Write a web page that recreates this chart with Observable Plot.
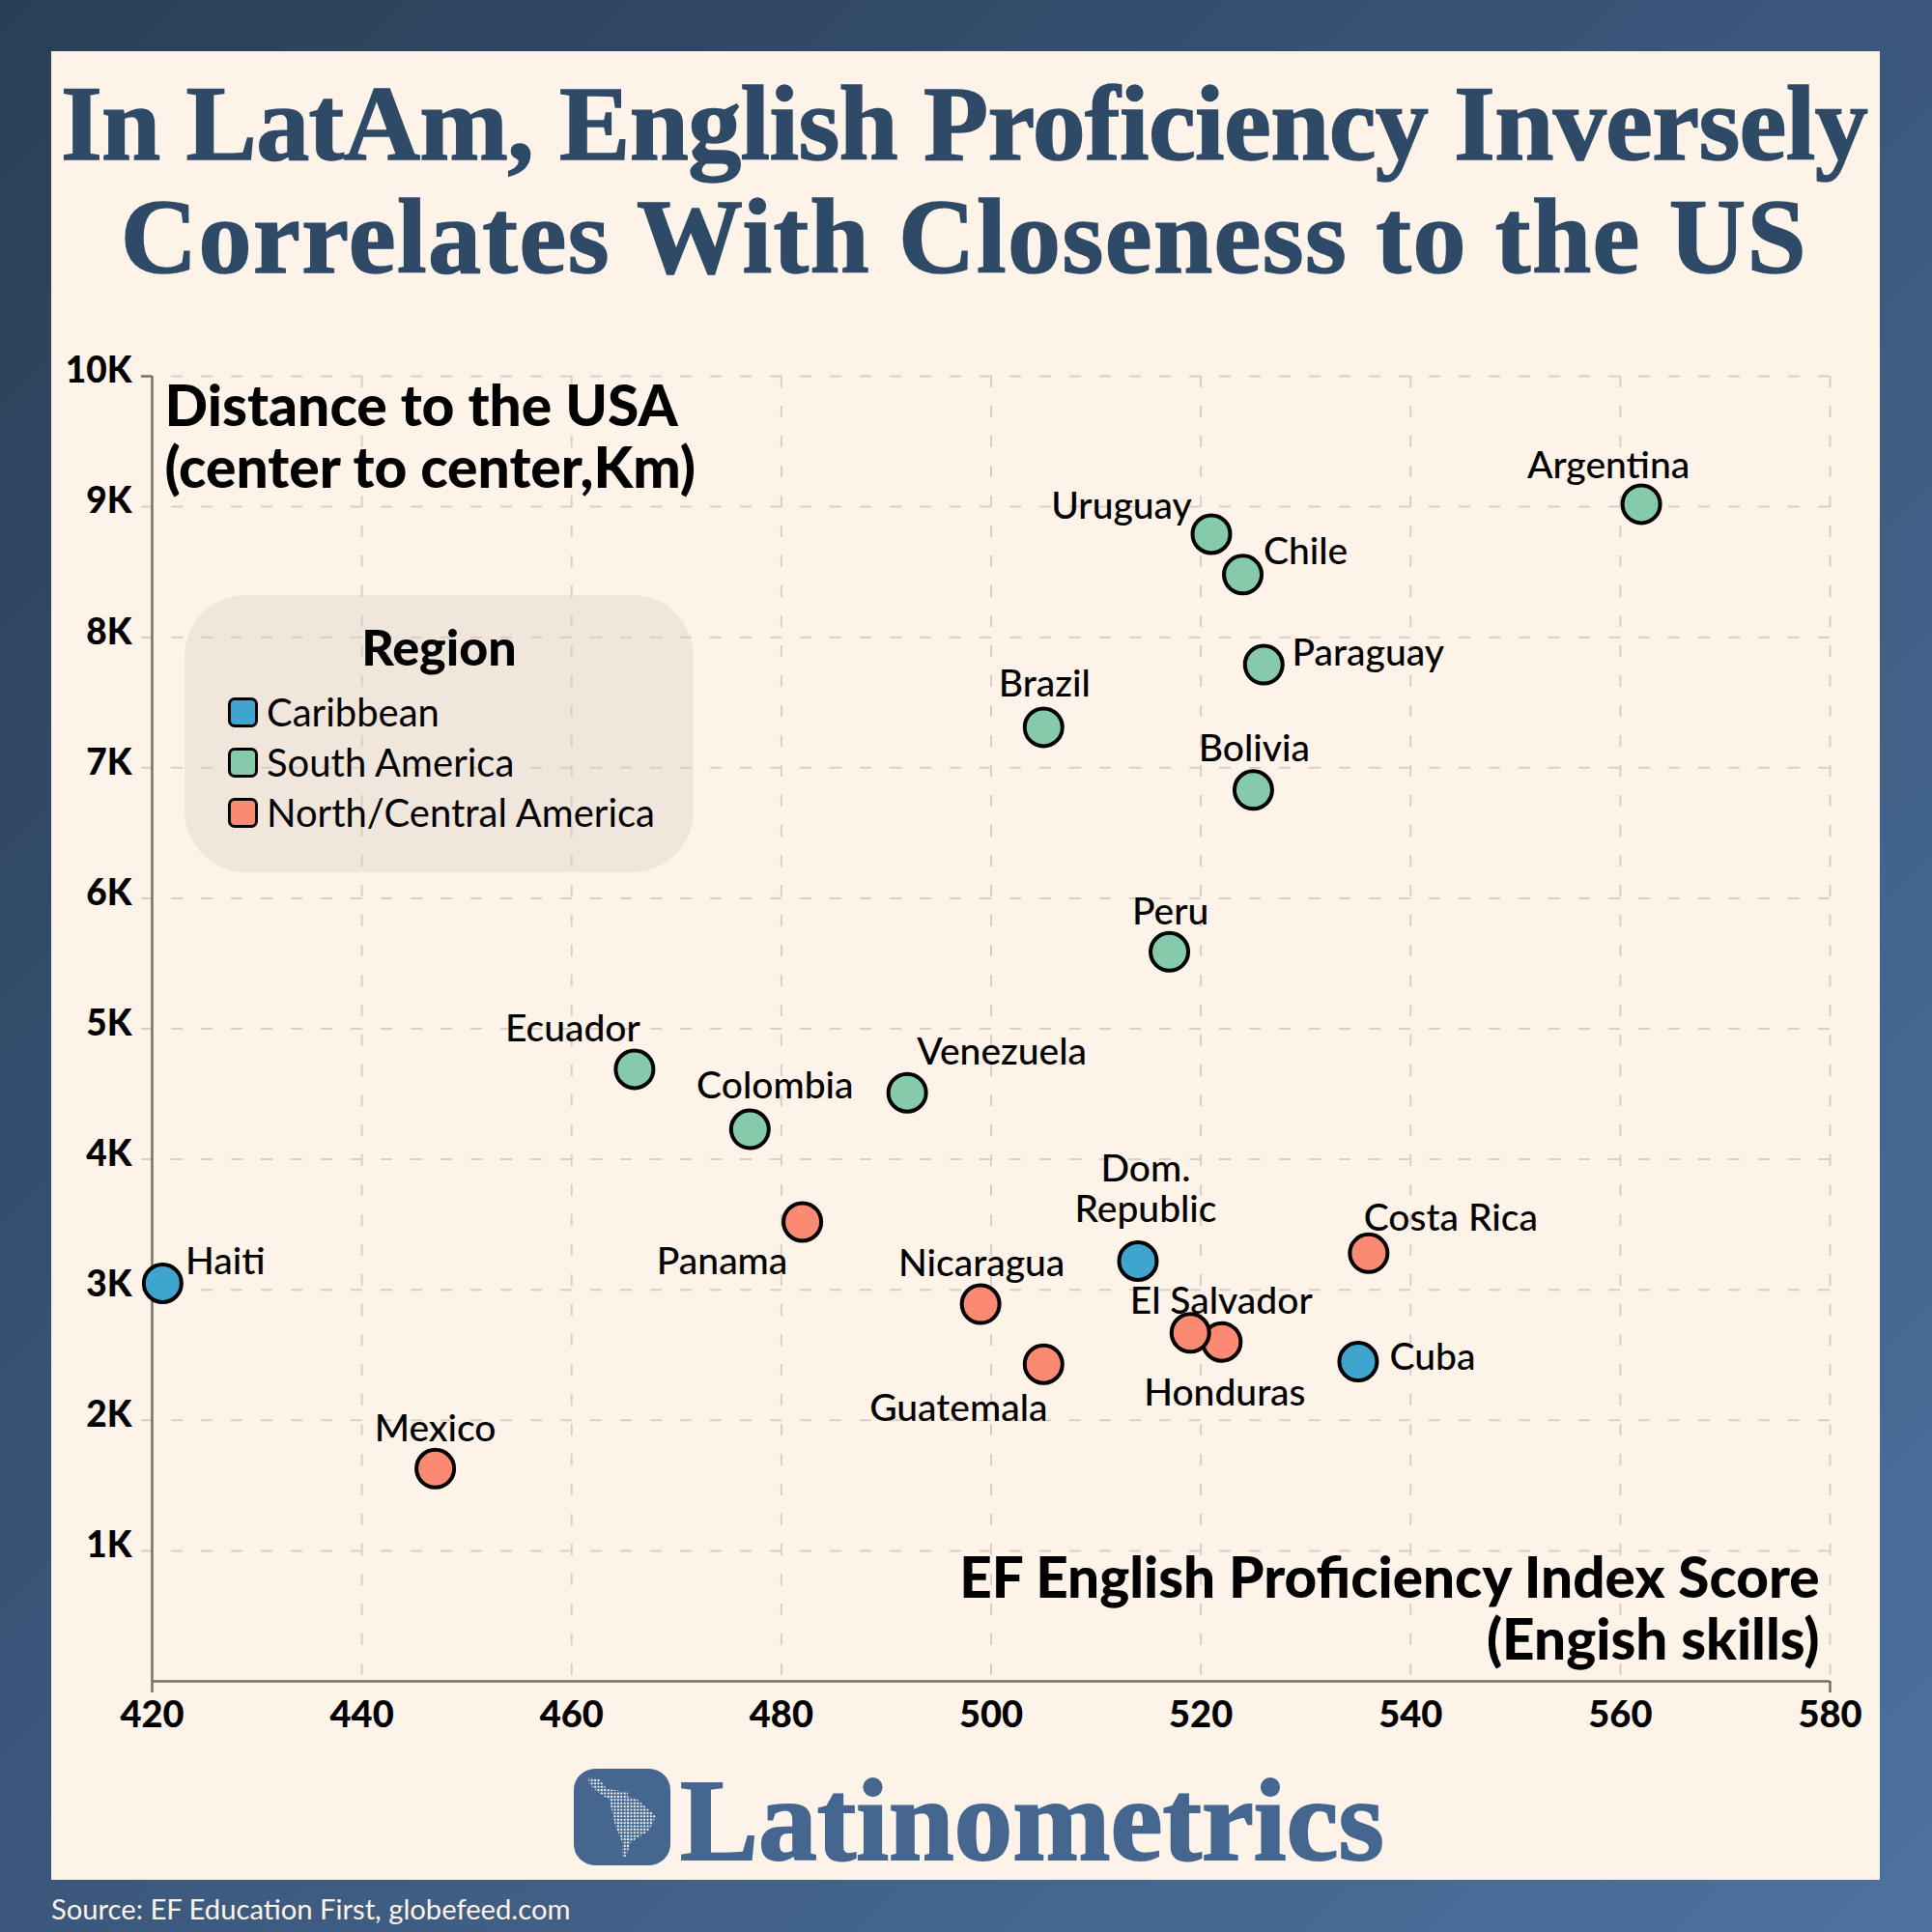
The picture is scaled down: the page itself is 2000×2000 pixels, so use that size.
<!DOCTYPE html>
<html>
<head>
<meta charset="utf-8">
<script src="https://cdn.jsdelivr.net/npm/d3@7"></script>
<script src="https://cdn.jsdelivr.net/npm/@observablehq/plot@0.6"></script>
<style>
html,body{margin:0;padding:0;background:#2a3f58}
#frame{position:relative;width:2000px;height:2000px;overflow:hidden;background:linear-gradient(135deg,#2a3e57 0%,#4c72a0 100%);font-family:Lato,sans-serif}
#panel{position:absolute;left:53px;top:53px;width:1893px;height:1893px;background:#fef3e8}
.title{position:absolute;left:0;width:1996px;text-align:center;font-family:"Liberation Serif",serif;font-weight:700;color:#2f4a66;font-size:110px;line-height:112px;white-space:nowrap;-webkit-text-stroke:1.5px #2f4a66}
#legendBox{position:absolute;left:191px;top:616px;width:527px;height:287px;border-radius:64px;background:#f0e6dc}
#legendTitle{position:absolute;left:191px;width:527px;top:639px;text-align:center;font-weight:900;font-size:52px;line-height:60px;color:#000}
.lgItem{position:absolute;left:236px;height:44px;display:flex;align-items:center;color:#000;font-size:40px;white-space:nowrap}
.lgSwatch{width:25px;height:25px;border:3.5px solid #000;border-radius:7px;margin-right:9px;flex:none}
#chart{position:absolute;left:0;top:340px}
#logo{position:absolute;left:594px;top:1831px;width:100px;height:100px}
#brand{position:absolute;left:704px;top:1823px;font-family:"Liberation Serif",serif;font-weight:700;font-size:121.5px;line-height:122px;color:#44668f;white-space:nowrap;-webkit-text-stroke:2px #44668f}
#source{position:absolute;left:53px;top:1958px;font-size:29.2px;line-height:36px;color:#fef3e8;white-space:nowrap}
</style>
</head>
<body>
<div id="frame">
  <div id="panel"></div>
  <div class="title" style="top:72px;letter-spacing:-0.65px">In LatAm, English Proficiency Inversely</div>
  <div class="title" style="top:189px;letter-spacing:1.45px">Correlates With Closeness to the US</div>
  <div id="legendBox"></div>
  <div id="chartHost"></div>
  <div id="legendHost"></div>
  <svg id="logo" viewBox="0 0 100 100">
    <defs>
      <pattern id="dots" width="3.4" height="3.4" patternUnits="userSpaceOnUse"><circle cx="1.7" cy="1.7" r="1.15" fill="#ffffff"/></pattern>
    </defs>
    <rect width="100" height="100" rx="22" fill="#44668f"/>
    <path fill="url(#dots)" d="M15 9L27 11L34 21L56 24L56 29L66 32L85 49L78 64L59 76L54 91L50 91L50 76L43 59L39 42L37 32L27 26L16 16Z"/>
  </svg>
  <div id="brand">Latinometrics</div>
  <div id="source">Source: EF Education First, globefeed.com</div>
</div>
<script>
const countries = ["Haiti","Mexico","Ecuador","Colombia","Venezuela","Panama","Nicaragua","Guatemala","Dom.\nRepublic","Honduras","El Salvador","Cuba","Costa Rica","Peru","Bolivia","Brazil","Paraguay","Chile","Uruguay","Argentina"];
const englishScore = [421,447,466,477,492,482,499,505,514,522,519,535,536,517,525,505,526,524,521,562];
const distanceKm = [3050,1630,4690,4230,4510,3520,2890,2430,3220,2600,2670,2450,3280,5590,6830,7310,7790,8480,8790,9020];
const regions = ["Caribbean","North/Central America","South America","South America","South America","North/Central America","North/Central America","North/Central America","Caribbean","North/Central America","North/Central America","Caribbean","North/Central America","South America","South America","South America","South America","South America","South America","South America"];
const regionNames = ["Caribbean","South America","North/Central America"];
const regionColors = ["#3fa5cf","#85cbab","#fb8a72"];
const xTicks = [420,440,460,480,500,520,540,560,580];
const yTicks = [1000,2000,3000,4000,5000,6000,7000,8000,9000,10000];
const labelDx = [65,0,-64,26,98,-83,1,-88,8,3,32,77,85,1,1,1,108,65,-93,-34];
const labelDy = [-23,-42,-42,-46,-43,41,-43,45,-75,52,-33,-5,-37,-42,-43,-45,-13,-24,-29,-40];

const table = countries.map((name,i)=>({name,score:englishScore[i],dist:distanceKm[i],region:regions[i]}));
const labelFont = "Lato, sans-serif";
const gridStyle = {stroke:"#d9cfc4",strokeOpacity:1,strokeWidth:2,strokeDasharray:"12 19"};
const axisStroke = "#7a6f68";

const chart = Plot.plot({
  width:2000,height:1480,
  marginLeft:157,marginRight:106,marginTop:49,marginBottom:80,
  style:{background:"transparent",fontFamily:labelFont,overflow:"visible"},
  x:{domain:[420,580]},
  y:{domain:[0,10000]},
  color:{domain:regionNames,range:regionColors},
  marks:[
    Plot.ruleX(xTicks.slice(1),gridStyle),
    Plot.ruleY(yTicks,{...gridStyle,insetLeft:-11}),
    Plot.axisY(yTicks,{anchor:"left",tickFormat:d=>d/1000+"K",tickSize:0,tickPadding:21,dy:-5,fontSize:37,fontWeight:900,fill:"#000",label:null}),
    Plot.axisX(xTicks,{anchor:"bottom",tickSize:0,tickPadding:21,fontSize:38,fontWeight:900,fill:"#000",label:null,tickFormat:d=>String(d)}),
    Plot.axisY([10000],{anchor:"left",tickSize:11,fill:"none",stroke:axisStroke,strokeWidth:2.5,label:null}),
    Plot.axisX([420,580],{anchor:"bottom",tickSize:12,fill:"none",stroke:axisStroke,strokeWidth:2.5,label:null}),
    Plot.ruleX([420],{stroke:axisStroke,strokeWidth:2.5}),
    Plot.ruleY([0],{stroke:axisStroke,strokeWidth:2.5}),
    Plot.text(["Distance to the USA\n(center to center,Km)"],{frameAnchor:"top-left",dx:13,dy:6,textAnchor:"start",lineAnchor:"top",fontSize:58.7,fontWeight:900,lineHeight:1.09,fill:"#000"}),
    Plot.text(["EF English Proficiency Index Score\n(Engish skills)"],{frameAnchor:"bottom-right",dx:-11,dy:-23,textAnchor:"end",lineAnchor:"bottom",fontSize:58.4,fontWeight:900,lineHeight:1.09,fill:"#000"}),
    Plot.dot(table,{x:"score",y:"dist",r:19.5,fill:"region",stroke:"#000",strokeWidth:4}),
    ...table.map((row,i)=>Plot.text([row],{x:"score",y:"dist",text:"name",dx:labelDx[i],dy:labelDy[i],fontSize:39,fontWeight:500,fill:"#000",lineHeight:1.08}))
  ]
});
chart.id="chart";
document.getElementById("chartHost").appendChild(chart);

const legendHost=document.getElementById("legendHost");
const t=document.createElement("div");t.id="legendTitle";t.textContent="Region";legendHost.appendChild(t);
regionNames.forEach((name,i)=>{
  const row=document.createElement("div");row.className="lgItem";row.style.top=(715+52*i)+"px";
  const s=document.createElement("div");s.className="lgSwatch";s.style.background=regionColors[i];
  const l=document.createElement("span");l.textContent=name;
  row.append(s,l);legendHost.appendChild(row);
});
</script>
</body>
</html>
